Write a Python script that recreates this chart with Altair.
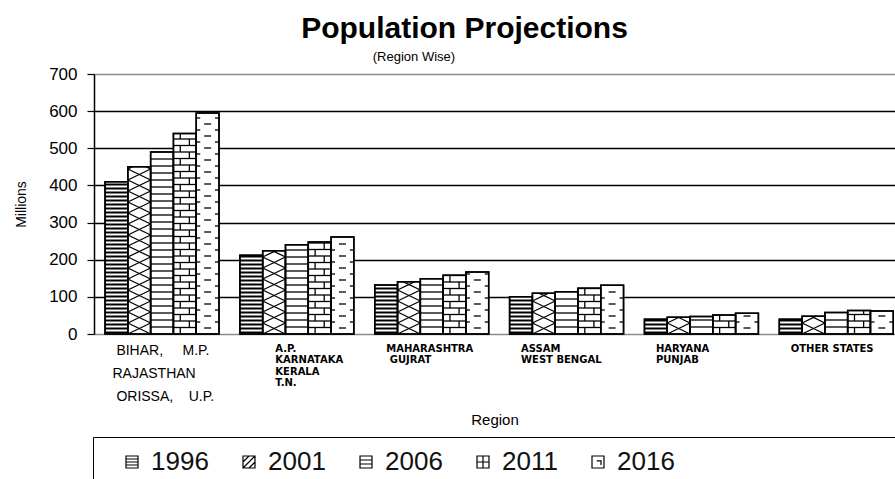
import json
import altair as alt
import pandas as pd

NB = "\u00a0"   # non-breaking space
ZW = "\u200b"   # zero-width space keeps padded strings from being trimmed

# ---- data ---------------------------------------------------------------
region_lines = [
    [ZW + NB + "BIHAR," + NB * 5 + "M.P.", ZW, "RAJASTHAN", ZW, ZW + NB + "ORISSA," + NB * 4 + "U.P."],
    ["A.P.", "KARNATAKA", "KERALA", "T.N."],
    ["MAHARASHTRA", ZW + NB + "GUJRAT"],
    ["ASSAM", "WEST BENGAL"],
    ["HARYANA", "PUNJAB"],
    ["OTHER STATES"],
]
years = ["1996", "2001", "2006", "2011", "2016"]
pop_1996 = [410, 212, 132, 100, 40, 40]
pop_2001 = [450, 224, 141, 110, 45, 48]
pop_2006 = [490, 240, 149, 114, 47, 58]
pop_2011 = [540, 248, 158, 123, 51, 63]
pop_2016 = [595, 261, 167, 131, 56, 62]
series = [pop_1996, pop_2001, pop_2006, pop_2011, pop_2016]
y_ticks = [0, 100, 200, 300, 400, 500, 600, 700]

# ---- layout / style constants --------------------------------------------
W, H = 801, 260
Y_MAX = 700
X_MAX = 5.94
PX_Y = Y_MAX / H          # y data units per pixel
PX_X = X_MAX / W          # x data units per pixel
GAP = 0.082               # space before the first bar of a group
BAR = 0.169               # width of one bar (fraction of a group)

# ---- grouped bar table ----------------------------------------------------
bars = []
for k, yr in enumerate(years):
    for g, v in enumerate(series[k]):
        x0 = g + GAP + k * BAR
        bars.append({"year": yr, "k": k, "g": g, "value": v,
                     "x0": x0, "x1": x0 + BAR, "xc": x0 + BAR / 2})
bars_df = pd.DataFrame(bars)

# ---- fill patterns as line segments inside each bar ---------------------
segs = []


def seg(x, x2, y, y2, kind="thin"):
    segs.append({"x": x, "x2": x2, "y": y, "y2": y2, "kind": kind})


for b in bars:
    x0, x1, v, k = b["x0"], b["x1"], b["value"], b["k"]
    top_px = v / PX_Y
    if k == 0:      # dense horizontal stripes
        ypx = 1.5
        while ypx < top_px - 1:
            seg(x0, x1, ypx * PX_Y, ypx * PX_Y, "thick")
            ypx += 4
    elif k == 1:    # diagonal lattice
        leg = 11.0
        j = 0
        while j * leg < top_px:
            ya, yb = j * leg, (j + 1) * leg
            for phase in (0, 1):
                xs, xe = (x0, x1) if (j + phase) % 2 == 0 else (x1, x0)
                ye = yb
                if yb > top_px:
                    t = (top_px - ya) / leg
                    xe = xs + t * (xe - xs)
                    ye = top_px
                seg(xs, xe, ya * PX_Y, ye * PX_Y)
            j += 1
    elif k == 2:    # wide horizontal lines
        ypx = 7.0
        while ypx < top_px - 1:
            seg(x0, x1, ypx * PX_Y, ypx * PX_Y)
            ypx += 7.0
    elif k == 3:    # brick
        row = 6.5
        r = 0
        while r * row < top_px:
            ya = r * row
            yb = min((r + 1) * row, top_px)
            if ya > 0:
                seg(x0, x1, ya * PX_Y, ya * PX_Y)
            xv = x0 + (0.3 if r % 2 == 0 else 0.7) * (x1 - x0)
            seg(xv, xv, ya * PX_Y, yb * PX_Y)
            r += 1
    else:           # dashes
        xc = (x0 + x1) / 2
        ypx = 6.0
        while ypx < top_px - 1:
            seg(xc - 3.5 * PX_X, xc + 3.5 * PX_X, ypx * PX_Y, ypx * PX_Y)
            ypx += 12.0
        ypx = 12.0
        while ypx < top_px - 1:
            seg(x0, x0 + 4 * PX_X, ypx * PX_Y, ypx * PX_Y)
            seg(x1 - 4 * PX_X, x1, ypx * PX_Y, ypx * PX_Y)
            ypx += 12.0
segs_df = pd.DataFrame(segs)

# ---- scales and axes -----------------------------------------------------
FONT = "Liberation Sans"
x_scale = alt.Scale(domain=[0, X_MAX], nice=False, zero=False)
y_scale = alt.Scale(domain=[0, Y_MAX], nice=False)

x_axis = alt.Axis(
    values=list(range(len(region_lines))),
    labelExpr=json.dumps(region_lines) + "[datum.value]",
    ticks=False, domain=False, grid=False,
    labelAlign="left",
    labelBaseline="top",
    labelOffset={"condition": [{"test": "datum.value == 0", "value": 18},
                               {"test": "datum.value == 1", "value": 46}], "value": 22},
    labelPadding=9,
    labelLineHeight=11.5,
    labelFont={"condition": {"test": "datum.value == 0", "value": FONT}, "value": "DejaVu Sans"},
    labelFontSize={"condition": {"test": "datum.value == 0", "value": 14}, "value": 10},
    labelFontWeight={"condition": {"test": "datum.value == 0", "value": "normal"}, "value": "bold"},
    labelColor="black",
    labelLimit=300,
    labelOverlap=False,
    title="Region",
    titleFont=FONT, titleFontSize=15, titleFontWeight="normal", titleColor="black",
    titlePadding=9,
)

y_axis = alt.Axis(
    values=y_ticks,
    grid=True,
    gridColor={"condition": {"test": "datum.value == 0 || datum.value == 700", "value": "#8a8a8a"},
               "value": "black"},
    gridWidth=1.3,
    domainColor="black", domainWidth=1.5,
    tickColor="black", tickSize=7, tickWidth=1.2,
    labelFont=FONT, labelFontSize=17, labelColor="black", labelPadding=10,
    title="Millions",
    titleFont=FONT, titleFontSize=14, titleFontWeight="normal", titleColor="black",
    titlePadding=20,
)

shapes = [
    "M-1,-1H1V1H-1Z M-1,-0.5H1 M-1,0H1 M-1,0.5H1",
    "M-1,-1H1V1H-1Z M-1,1L1,-1 M-1,0L0,-1 M0,1L1,0",
    "M-1,-1H1V1H-1Z M-1,-0.33H1 M-1,0.33H1",
    "M-1,-1H1V1H-1Z M-1,0H1 M0,-1V1",
    "M-1,-1H1V1H-1Z M-0.2,-0.2H0.5V0.5",
]

legend = alt.Legend(
    orient="none", legendX=-1, legendY=363, direction="horizontal",
    title=None,
    strokeColor="black", fillColor="white", padding=12,
    symbolOffset=14,
    labelFont=FONT, labelFontSize=26, labelColor="#111111", labelOffset=6,
    labelLimit=1000,
    labelExpr="datum.label == '%s' ? datum.label + '%s' : datum.label" % (years[-1], NB * 36 + ZW),
    symbolSize=144, symbolStrokeColor="black", symbolFillColor="white",
    symbolStrokeWidth=1.2, symbolOpacity=1,
    columnPadding=13,
)

# ---- layers --------------------------------------------------------------
bar_layer = alt.Chart(bars_df).mark_bar(
    fill="white", stroke="black", strokeWidth=1.5
).encode(
    x=alt.X("x0:Q", scale=x_scale, axis=x_axis),
    x2="x1:Q",
    y=alt.Y("value:Q", scale=y_scale, axis=y_axis),
    y2=alt.datum(0),
)

thick_layer = alt.Chart(segs_df).transform_filter(
    alt.datum.kind == "thick"
).mark_rule(color="black", strokeWidth=2).encode(
    x=alt.X("x:Q", scale=x_scale, axis=x_axis),
    x2="x2:Q",
    y=alt.Y("y:Q", scale=y_scale, axis=y_axis),
    y2="y2:Q",
)

thin_layer = alt.Chart(segs_df).transform_filter(
    alt.datum.kind == "thin"
).mark_rule(color="black", strokeWidth=1.3).encode(
    x=alt.X("x:Q", scale=x_scale, axis=x_axis),
    x2="x2:Q",
    y=alt.Y("y:Q", scale=y_scale, axis=y_axis),
    y2="y2:Q",
)

outline_layer = alt.Chart(bars_df).mark_bar(
    fillOpacity=0, stroke="black", strokeWidth=1.5
).encode(
    x=alt.X("x0:Q", scale=x_scale, axis=x_axis),
    x2="x1:Q",
    y=alt.Y("value:Q", scale=y_scale, axis=y_axis),
    y2=alt.datum(0),
)

key_layer = alt.Chart(bars_df).mark_point(opacity=0).encode(
    x=alt.X("xc:Q", scale=x_scale, axis=x_axis),
    y=alt.Y("value:Q", scale=y_scale, axis=y_axis),
    shape=alt.Shape("year:N", scale=alt.Scale(domain=years, range=shapes), legend=legend),
)

chart = alt.layer(bar_layer, thick_layer, thin_layer, outline_layer, key_layer).properties(
    width=W,
    height=H,
    title=alt.TitleParams(
        text="Population Projections",
        subtitle="(Region Wise)" + NB * 28 + ZW,
        font=FONT, fontSize=30, fontWeight="bold", color="black",
        subtitleFont=FONT, subtitleFontSize=13, subtitleColor="black",
        subtitlePadding=7, offset=1, anchor="middle", frame="group", dx=-30,
    ),
    autosize=alt.AutoSizeParams(type="none"),
    padding={"left": 94, "top": 74, "right": 0, "bottom": 145},
).configure_view(stroke=None).configure(background="white")

chart.save("out.html", embed_options={"renderer": "svg", "actions": False})
